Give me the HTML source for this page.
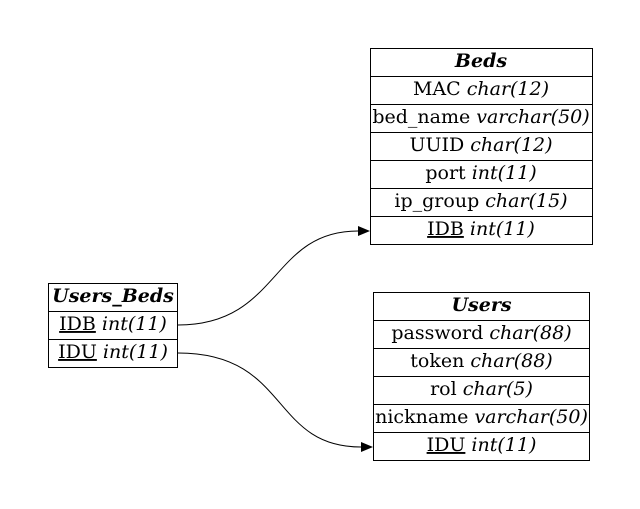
<!DOCTYPE html>
<html><head><meta charset="utf-8"><style>
body{margin:0;background:#fff}
svg{display:block}
text{font-family:"DejaVu Serif","Liberation Serif",serif;font-size:19px;fill:#000}
.t{font-weight:bold;font-style:italic}
.i{font-style:italic}
</style></head><body>
<svg width="640" height="509" viewBox="0 0 640 509">
<g>
<rect x="370.5" y="48.5" width="222" height="196" fill="#fff" stroke="#000"/>
<g stroke="#000"><line x1="370" y1="76.5" x2="593" y2="76.5"/><line x1="370" y1="104.5" x2="593" y2="104.5"/><line x1="370" y1="132.5" x2="593" y2="132.5"/><line x1="370" y1="160.5" x2="593" y2="160.5"/><line x1="370" y1="188.5" x2="593" y2="188.5"/><line x1="370" y1="216.5" x2="593" y2="216.5"/></g>
<text x="481" y="67" text-anchor="middle" class="t">Beds</text>
<text x="481" y="95" text-anchor="middle">MAC <tspan class="i">char(12)</tspan></text>
<text x="481" y="123" text-anchor="middle">bed_name <tspan class="i">varchar(50)</tspan></text>
<text x="481" y="151" text-anchor="middle">UUID <tspan class="i">char(12)</tspan></text>
<text x="481" y="179" text-anchor="middle">port <tspan class="i">int(11)</tspan></text>
<text x="481" y="207" text-anchor="middle">ip_group <tspan class="i">char(15)</tspan></text>
<text x="481" y="235" text-anchor="middle"><tspan text-decoration="underline">IDB</tspan> <tspan class="i">int(11)</tspan></text>
</g>
<g>
<rect x="373.5" y="292.5" width="216" height="168" fill="#fff" stroke="#000"/>
<g stroke="#000"><line x1="373" y1="320.5" x2="590" y2="320.5"/><line x1="373" y1="348.5" x2="590" y2="348.5"/><line x1="373" y1="376.5" x2="590" y2="376.5"/><line x1="373" y1="404.5" x2="590" y2="404.5"/><line x1="373" y1="432.5" x2="590" y2="432.5"/></g>
<text x="481.5" y="311" text-anchor="middle" class="t">Users</text>
<text x="481.5" y="339" text-anchor="middle">password <tspan class="i">char(88)</tspan></text>
<text x="481.5" y="367" text-anchor="middle">token <tspan class="i">char(88)</tspan></text>
<text x="481.5" y="395" text-anchor="middle">rol <tspan class="i">char(5)</tspan></text>
<text x="481.5" y="423" text-anchor="middle">nickname <tspan class="i">varchar(50)</tspan></text>
<text x="481.5" y="451" text-anchor="middle"><tspan text-decoration="underline">IDU</tspan> <tspan class="i">int(11)</tspan></text>
</g>
<g>
<rect x="48.5" y="283.5" width="129" height="84" fill="#fff" stroke="#000"/>
<g stroke="#000"><line x1="48" y1="311.5" x2="178" y2="311.5"/><line x1="48" y1="339.5" x2="178" y2="339.5"/></g>
<text x="113" y="302" text-anchor="middle" class="t">Users_Beds</text>
<text x="113" y="330" text-anchor="middle"><tspan text-decoration="underline">IDB</tspan> <tspan class="i">int(11)</tspan></text>
<text x="113" y="358" text-anchor="middle"><tspan text-decoration="underline">IDU</tspan> <tspan class="i">int(11)</tspan></text>
</g>
<g>
<path d="M178,325 C280,325 270,231 358,231" fill="none" stroke="#000"/>
<polygon points="358,226 370,231 358,236" fill="#000"/>
</g>
<g>
<path d="M178,353 C290,353 270,447 361,447" fill="none" stroke="#000"/>
<polygon points="361,442 373,447 361,452" fill="#000"/>
</g>
</svg>
</body></html>
